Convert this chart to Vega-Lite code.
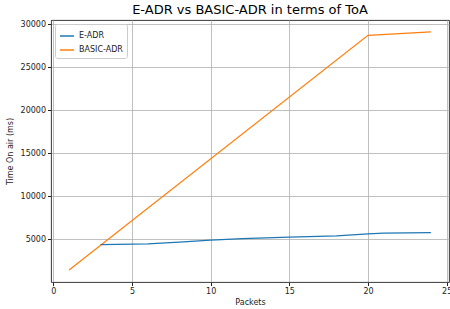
{
  "$schema": "https://vega.github.io/schema/vega-lite/v6.json",
  "autosize": "none",
  "padding": {"left": 51, "top": 20, "right": 1, "bottom": 27},
  "width": 398,
  "height": 262,
  "title": {"text": "E-ADR vs BASIC-ADR in terms of ToA", "offset": 3},
  "config": {
    "title": {"font": "DejaVu Sans", "fontSize": 13, "fontWeight": 400, "color": "#000"},
    "view": {"stroke": "#222", "strokeWidth": 0.9},
    "axis": {"labelFont": "DejaVu Sans", "titleFont": "DejaVu Sans", "labelFontSize": 8, "titleFontSize": 8, "titleFontWeight": "normal", "labelColor": "#222", "titleColor": "#222", "gridColor": "#b0b0b0", "gridWidth": 0.8, "tickColor": "#222", "tickSize": 3.5, "domain": false, "labelPadding": 2}
  },
  "data": {"values": [
    {"Packets": 1, "ToA": 1400, "series": "BASIC-ADR"},
    {"Packets": 20, "ToA": 28700, "series": "BASIC-ADR"},
    {"Packets": 24, "ToA": 29100, "series": "BASIC-ADR"},
    {"Packets": 3, "ToA": 4350, "series": "E-ADR"},
    {"Packets": 4, "ToA": 4390, "series": "E-ADR"},
    {"Packets": 6, "ToA": 4450, "series": "E-ADR"},
    {"Packets": 8, "ToA": 4650, "series": "E-ADR"},
    {"Packets": 10, "ToA": 4880, "series": "E-ADR"},
    {"Packets": 12, "ToA": 5070, "series": "E-ADR"},
    {"Packets": 15, "ToA": 5230, "series": "E-ADR"},
    {"Packets": 18, "ToA": 5380, "series": "E-ADR"},
    {"Packets": 20, "ToA": 5600, "series": "E-ADR"},
    {"Packets": 21, "ToA": 5700, "series": "E-ADR"},
    {"Packets": 24, "ToA": 5760, "series": "E-ADR"}
  ]},
  "mark": {"type": "line", "strokeWidth": 1.25},
  "encoding": {
    "x": {"field": "Packets", "type": "quantitative", "scale": {"domain": [-0.15, 25.15], "nice": false, "zero": false},
      "axis": {"values": [0, 5, 10, 15, 20, 25], "format": "d", "title": "Packets", "titlePadding": 3}},
    "y": {"field": "ToA", "type": "quantitative", "scale": {"domain": [15, 30485], "nice": false, "zero": false},
      "axis": {"values": [5000, 10000, 15000, 20000, 25000, 30000], "format": "d", "title": "Time On air (ms)", "titlePadding": 6}},
    "color": {"field": "series", "type": "nominal", "sort": ["E-ADR", "BASIC-ADR"],
      "scale": {"domain": ["E-ADR", "BASIC-ADR"], "range": ["#1f77b4", "#ff7f0e"]},
      "legend": {"title": null, "orient": "top-left", "offset": 4, "symbolType": "stroke", "symbolStrokeWidth": 1.5, "symbolSize": 200, "labelFont": "DejaVu Sans", "labelFontSize": 8, "labelColor": "#222", "fillColor": "rgba(255,255,255,0.8)", "strokeColor": "#ccc", "padding": 4, "cornerRadius": 2, "rowPadding": 2}}
  }
}
